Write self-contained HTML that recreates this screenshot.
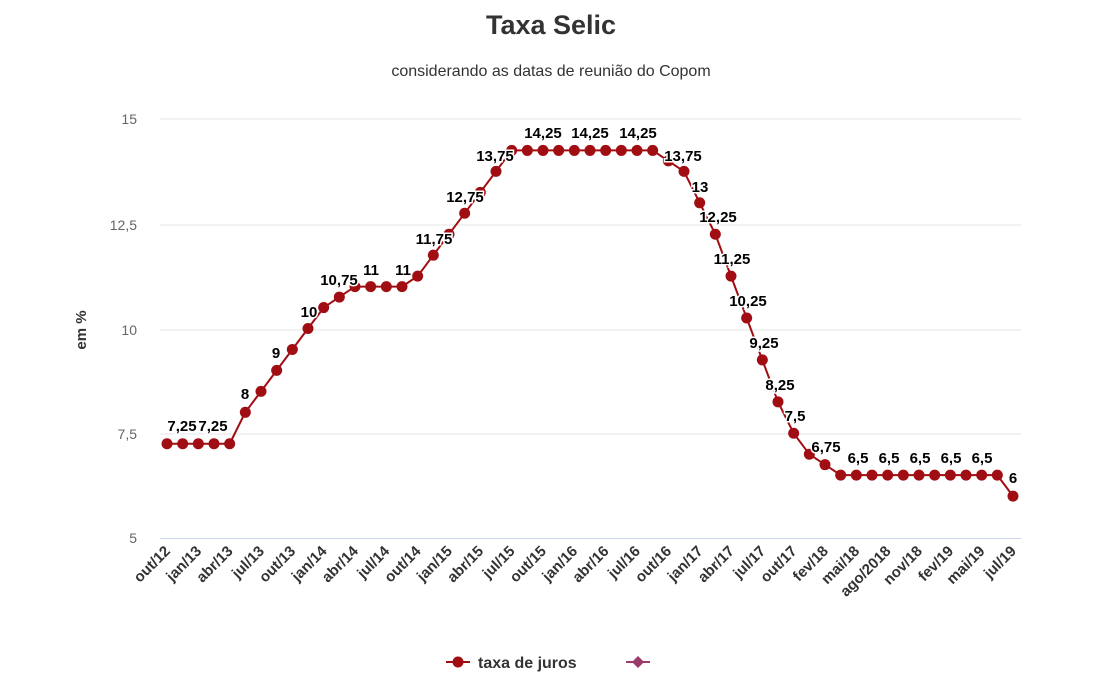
<!DOCTYPE html>
<html><head><meta charset="utf-8"><style>
body{margin:0;background:#fff;}
svg{display:block;font-family:"Liberation Sans",sans-serif;}
</style></head><body>
<svg width="1113" height="690" xmlns="http://www.w3.org/2000/svg">
<text x="551" y="34" text-anchor="middle" font-size="27" font-weight="bold" fill="#333">Taxa Selic</text>
<text x="551" y="76" text-anchor="middle" font-size="16" fill="#333">considerando as datas de reunião do Copom</text>
<g stroke="#e6e6e6" stroke-width="1">
<line x1="160" y1="119" x2="1021" y2="119"/><line x1="160" y1="225" x2="1021" y2="225"/>
<line x1="160" y1="330" x2="1021" y2="330"/><line x1="160" y1="434" x2="1021" y2="434"/>
</g>
<line x1="160" y1="538.5" x2="1021" y2="538.5" stroke="#ccd6eb"/>
<g font-size="14" fill="#666" text-anchor="end">
<text x="137" y="124">15</text><text x="137" y="230">12,5</text><text x="137" y="335">10</text><text x="137" y="439">7,5</text><text x="137" y="543">5</text>
</g>
<text transform="translate(86,330) rotate(-90)" text-anchor="middle" font-size="15" font-weight="bold" fill="#333">em %</text>
<g id="pts"></g>
<g id="xl" font-size="15" font-weight="bold" fill="#333" text-anchor="end"></g>
<g id="dl" font-size="15" font-weight="bold" fill="#000" text-anchor="middle" stroke="#fff" stroke-width="3" paint-order="stroke"></g>
<line x1="446" y1="662" x2="470" y2="662" stroke="#a00d12" stroke-width="2"/>
<circle cx="458" cy="662" r="5.5" fill="#a00d12"/>
<text x="478" y="668" font-size="16" font-weight="bold" fill="#333">taxa de juros</text>
<line x1="626" y1="662" x2="650" y2="662" stroke="#9b3a6b" stroke-width="2"/>
<path d="M638 656 L644 662 L638 668 L632 662Z" fill="#9b3a6b"/>
<script>
var d=[7.25,7.25,7.25,7.25,7.25,8,8.5,9,9.5,10,10.5,10.75,11,11,11,11,11.25,11.75,12.25,12.75,13.25,13.75];
for(var i=0;i<10;i++)d.push(14.25);
d=d.concat([14,13.75,13,12.25,11.25,10.25,9.25,8.25,7.5,7,6.75]);
for(i=0;i<11;i++)d.push(6.5);d.push(6);
function X(i){return 167+i*846/54;}function Y(v){return 538-(v-5)*41.9;}
var ns="http://www.w3.org/2000/svg",g=document.getElementById('pts'),p="";
d.forEach(function(v,i){p+=(i?"L":"M")+X(i).toFixed(1)+" "+Y(v).toFixed(1);});
var path=document.createElementNS(ns,'path');path.setAttribute('d',p);path.setAttribute('fill','none');path.setAttribute('stroke','#a00d12');path.setAttribute('stroke-width','2');g.appendChild(path);
d.forEach(function(v,i){var c=document.createElementNS(ns,'circle');c.setAttribute('cx',X(i));c.setAttribute('cy',Y(v));c.setAttribute('r',5.5);c.setAttribute('fill','#a00d12');g.appendChild(c);});
var labs=["out/12","jan/13","abr/13","jul/13","out/13","jan/14","abr/14","jul/14","out/14","jan/15","abr/15","jul/15","out/15","jan/16","abr/16","jul/16","out/16","jan/17","abr/17","jul/17","out/17","fev/18","mai/18","ago/2018","nov/18","fev/19","mai/19","jul/19"];
var xl=document.getElementById('xl');
labs.forEach(function(t,k){var x=X(k*2)+4,y=552;var e=document.createElementNS(ns,'text');e.setAttribute('transform','translate('+x+','+y+') rotate(-45)');e.textContent=t;xl.appendChild(e);});
var dl=[["7,25",182,431],["7,25",213,431],["8",245,399],["9",276,358],["10",309,317],["10,75",339,285],["11",371,275],["11",403,275],["11,75",434,244],["12,75",465,202],["13,75",495,161],["14,25",543,138],["14,25",590,138],["14,25",638,138],["13,75",683,161],["13",700,192],["12,25",718,222],["11,25",732,264],["10,25",748,306],["9,25",764,348],["8,25",780,390],["7,5",795,421],["6,75",826,452],["6,5",858,463],["6,5",889,463],["6,5",920,463],["6,5",951,463],["6,5",982,463],["6",1013,483]];
var dg=document.getElementById('dl');
dl.forEach(function(a){var e=document.createElementNS(ns,'text');e.setAttribute('x',a[1]);e.setAttribute('y',a[2]);e.textContent=a[0];dg.appendChild(e);});
</script>
</svg>
</body></html>
